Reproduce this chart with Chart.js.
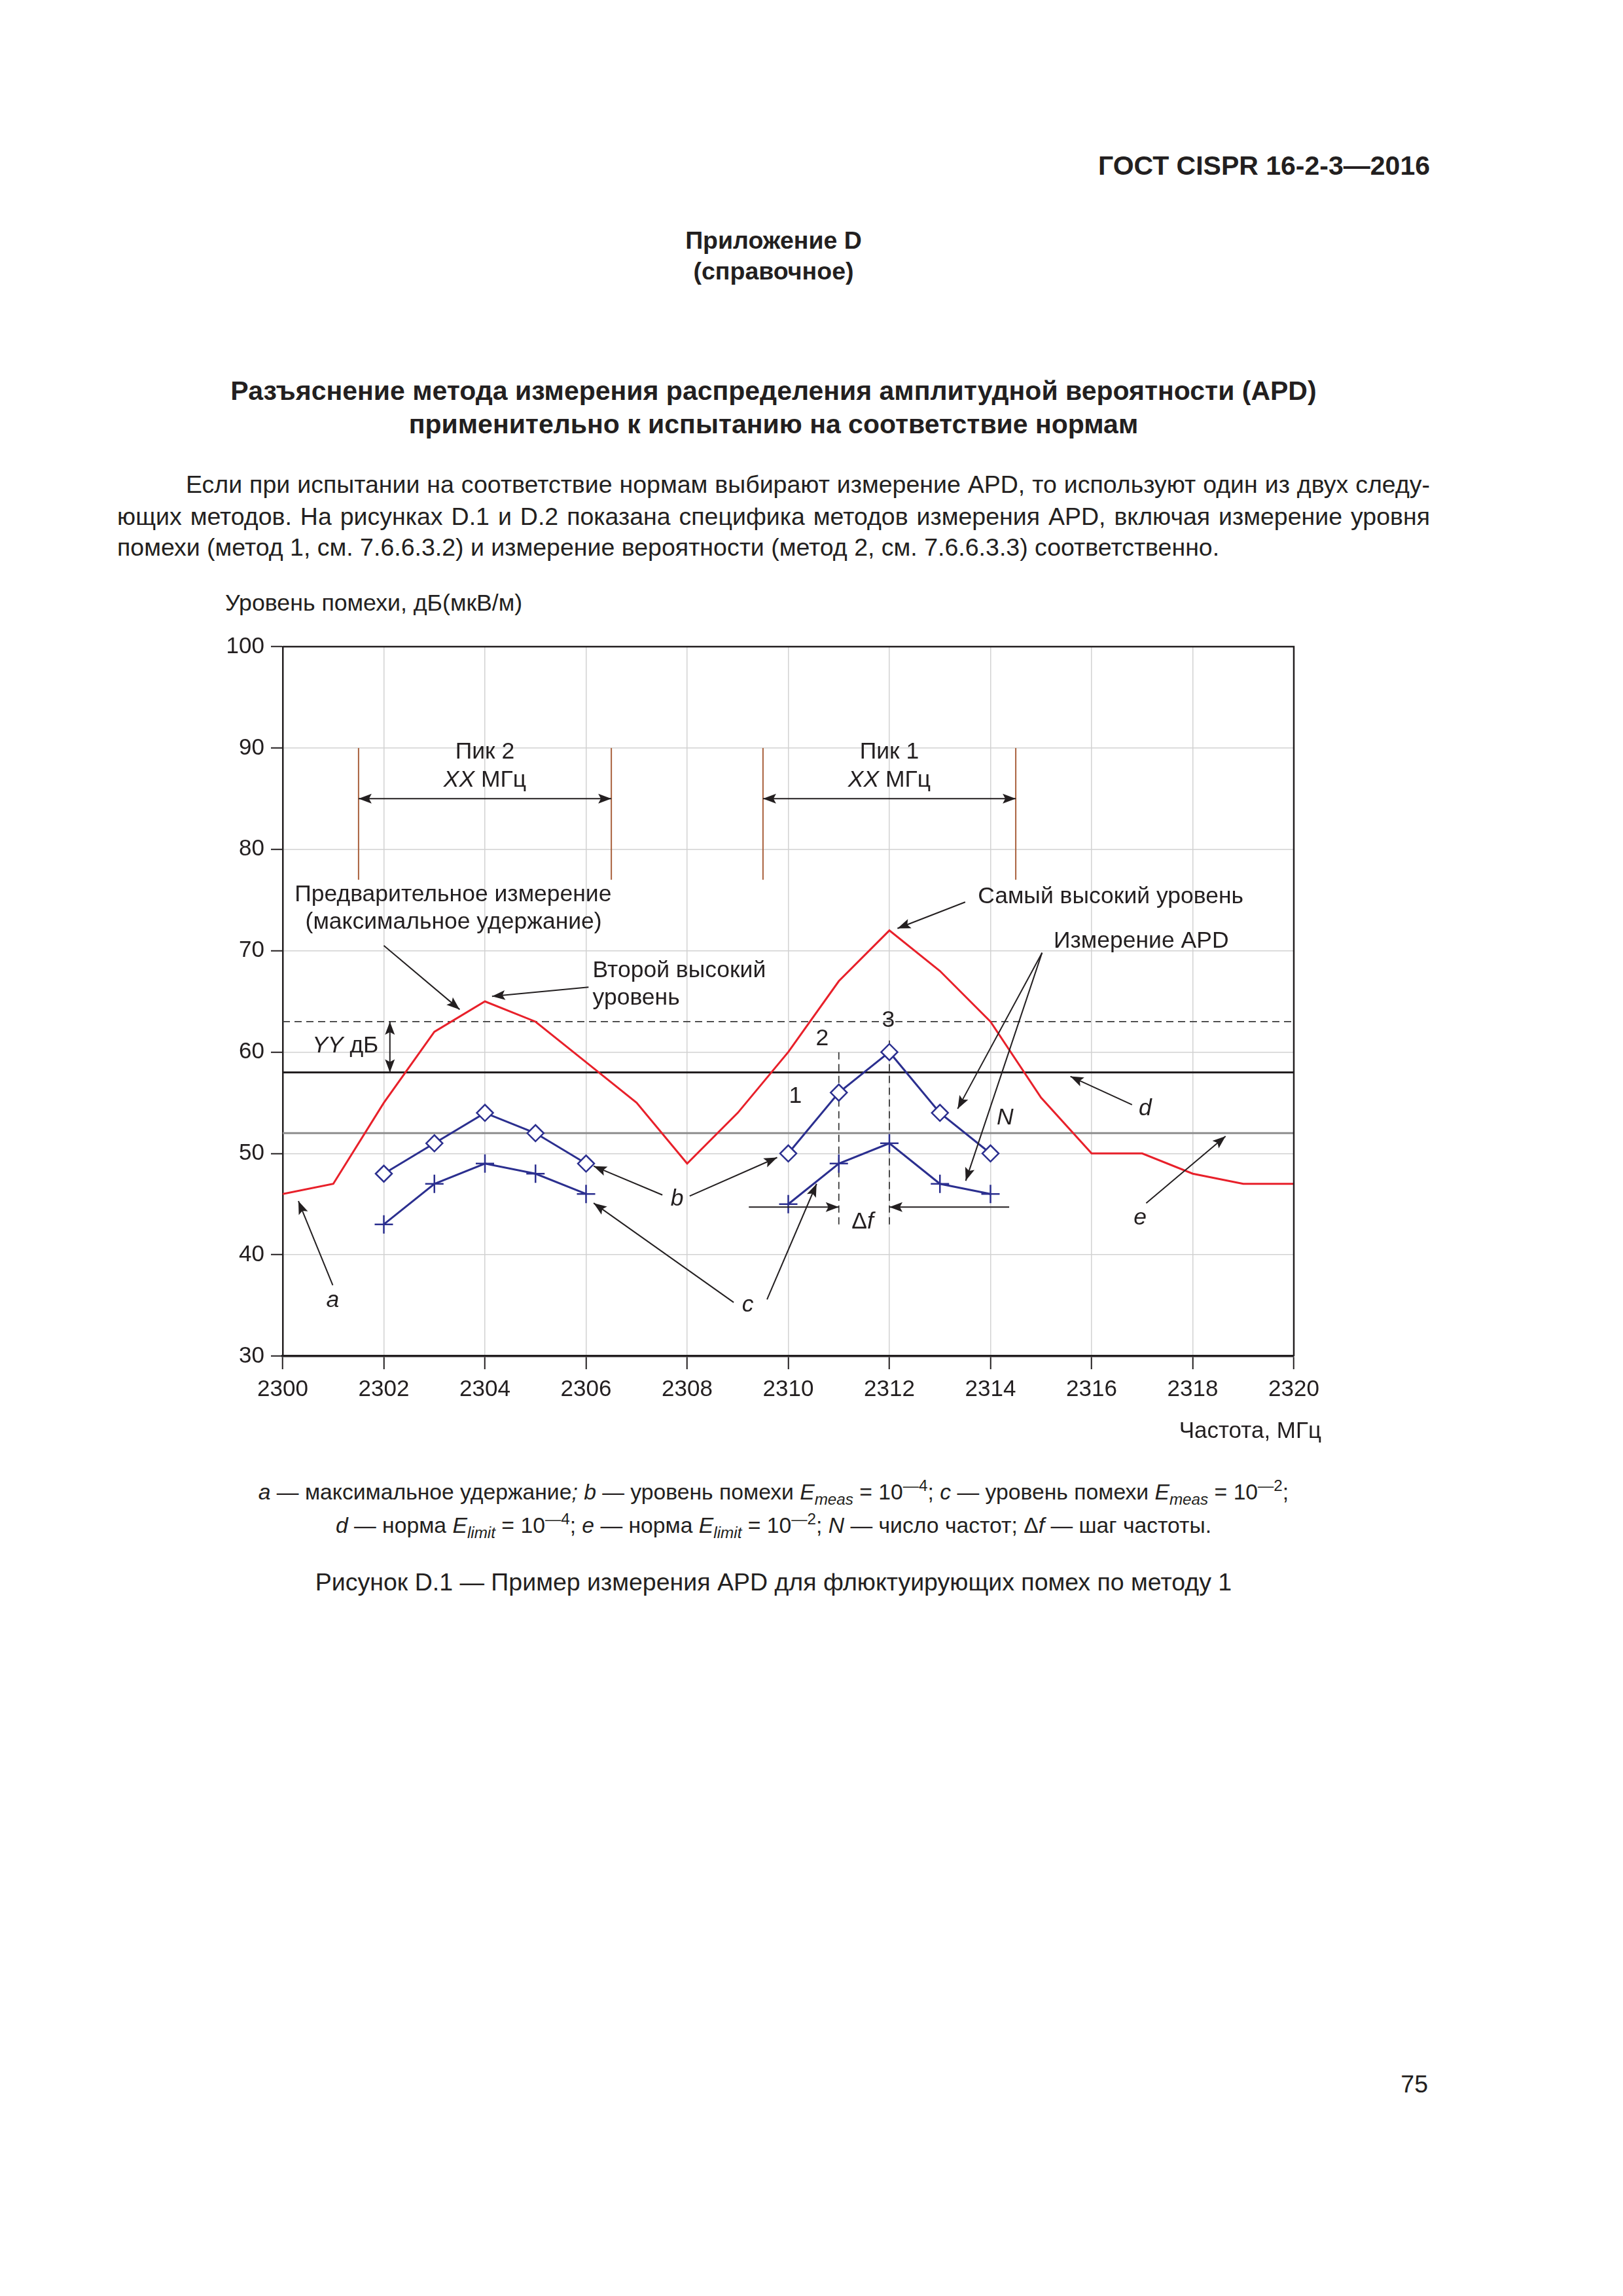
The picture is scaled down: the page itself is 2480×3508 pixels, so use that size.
<!DOCTYPE html>
<html lang="ru">
<head>
<meta charset="utf-8">
<title>Рисунок D.1 — Пример измерения APD</title>
<script src="https://cdn.jsdelivr.net/npm/chart.js@4.4.1/dist/chart.umd.min.js"></script>
<style>
  html, body { margin: 0; padding: 0; background: #fff; }
  body {
    width: 2480px; height: 3508px; position: relative; overflow: hidden;
    font-family: 'Liberation Sans', Arial, sans-serif; color: #231f20;
  }
  .t { position: absolute; white-space: nowrap; font-size: 37.5px; line-height: 40px; }
  .b { font-weight: bold; }
  .c { left: 179px; width: 2006px; text-align: center; }
  .j { left: 179px; width: 2006px; text-align: justify; text-align-last: justify; }
  sub, sup { font-size: 72%; line-height: 0; position: relative; vertical-align: baseline; }
  sub { top: 0.35em; }
  sup { top: -0.55em; }
  #chartBox { position: absolute; left: 250px; top: 940px; width: 1800px; height: 1250px; }
</style>
</head>
<body>

<div class="t b" style="right:295px; top:233px; font-size:41px;">ГОСТ CISPR 16-2-3—2016</div>

<div class="t b c" style="top:347px;">Приложение D</div>
<div class="t b c" style="top:394px;">(справочное)</div>

<div class="t b c" style="top:577px; font-size:41px;">Разъяснение метода измерения распределения амплитудной вероятности (APD)</div>
<div class="t b c" style="top:628px; font-size:41px;">применительно к испытанию на соответствие нормам</div>

<div class="t j" style="top:720px; left:284px; width:1901px;">Если при испытании на соответствие нормам выбирают измерение APD, то используют один из двух следу-</div>
<div class="t j" style="top:769px;">ющих методов. На рисунках D.1 и D.2 показана специфика методов измерения APD, включая измерение уровня</div>
<div class="t" style="top:816px; left:179px;">помехи (метод 1, см. 7.6.6.3.2) и измерение вероятности (метод 2, см. 7.6.6.3.3) соответственно.</div>

<div class="t" style="top:901px; left:344px; font-size:35.7px;">Уровень помехи, дБ(мкВ/м)</div>

<div id="chartBox"><canvas id="apdChart"></canvas></div>

<div class="t" style="top:2165px; right:461px; font-size:35px;">Частота, МГц</div>

<div class="t c" style="top:2259px; font-size:33.7px;"><i>a</i> — максимальное удержание<i>;</i> <i>b</i> — уровень помехи <i>E<sub>meas</sub></i> = 10<sup>—4</sup>; <i>c</i> — уровень помехи <i>E<sub>meas</sub></i> = 10<sup>—2</sup>;</div>
<div class="t c" style="top:2310px; font-size:33.7px;"><i>d</i> — норма <i>E<sub>limit</sub></i> = 10<sup>—4</sup>; <i>e</i> — норма <i>E<sub>limit</sub></i> = 10<sup>—2</sup>; <i>N</i> — число частот; Δ<i>f</i> — шаг частоты.</div>

<div class="t c" style="top:2397px;">Рисунок D.1 — Пример измерения APD для флюктуирующих помех по методу 1</div>

<div class="t" style="top:3164px; right:298px;">75</div>

<script>
// frequencies, MHz
const maxHoldFreq = [2300, 2301, 2302, 2303, 2304, 2305, 2306, 2307, 2308, 2309, 2310,
                     2311, 2312, 2313, 2314, 2315, 2316, 2317, 2318, 2319, 2320];
// a - max hold, dB(uV/m)
const maxHoldLevel = [46, 47, 55, 62, 65, 63, 59, 55, 49, 54, 60,
                      67, 72, 68, 63, 55.5, 50, 50, 48, 47, 47];

const apdFreq = [2302, 2303, 2304, 2305, 2306, 2307, 2308, 2309, 2310, 2311, 2312, 2313, 2314];
// b - level at E_meas = 1e-4, c - level at E_meas = 1e-2
const levelB = [48, 51, 54, 52, 49, null, null, null, 50, 56, 60, 54, 50];
const levelC = [43, 47, 49, 48, 46, null, null, null, 45, 49, 51, 47, 46];

const limitD = 58;        // d - limit E_limit = 1e-4
const limitE = 52;        // e - limit E_limit = 1e-2
const secondLevel = 63;   // dashed: second highest level
const spanFreq = [2300, 2320];

// frequency step markers (dashed verticals)
const stepFreq = [2311, 2312];
const stepTop = [60, 61.2];
const stepBottom = 43;

// peak windows (brown verticals)
const peakEdges = [2301.5, 2306.5, 2309.5, 2314.5];
const peakLineTop = 90;
const peakLineBottom = 77;

const xMin = 2300, xMax = 2320, xStep = 2;
const yMin = 30, yMax = 100, yStep = 10;

const RED = '#e8202a';
const NAVY = '#2b2f8f';
const BROWN = '#a8603c';
const INK = '#231f20';
const FONT = "'Liberation Sans', Arial, sans-serif";
const NOTE_SIZE = 35.5;

// text notes, placed in data coordinates
const notes = [
  { x: 2304, y: 89.6, align: 'center', runs: [['Пик 2']] },
  { x: 2304, y: 86.8, align: 'center', runs: [['XX', true], [' МГц']] },
  { x: 2312, y: 89.6, align: 'center', runs: [['Пик 1']] },
  { x: 2312, y: 86.8, align: 'center', runs: [['XX', true], [' МГц']] },
  { x: 2303.37, y: 75.5, align: 'center', runs: [['Предварительное измерение']] },
  { x: 2303.38, y: 72.8, align: 'center', runs: [['(максимальное удержание)']] },
  { x: 2306.13, y: 68.0, align: 'left', runs: [['Второй высокий']] },
  { x: 2306.13, y: 65.3, align: 'left', runs: [['уровень']] },
  { x: 2313.75, y: 75.3, align: 'left', runs: [['Самый высокий уровень']] },
  { x: 2315.25, y: 70.9, align: 'left', runs: [['Измерение APD']] },
  { x: 2310.14, y: 55.6, align: 'center', runs: [['1']] },
  { x: 2310.67, y: 61.3, align: 'center', runs: [['2']] },
  { x: 2311.98, y: 63.1, align: 'center', runs: [['3']] },
  { x: 2314.29, y: 53.5, align: 'center', runs: [['N', true]] },
  { x: 2301.24, y: 60.6, align: 'center', runs: [['YY', true], [' дБ']] },
  { x: 2311.47, y: 43.2, align: 'center', runs: [['Δ'], ['f', true]] },
  { x: 2300.99, y: 35.5, align: 'center', runs: [['a', true]] },
  { x: 2307.8, y: 45.5, align: 'center', runs: [['b', true]] },
  { x: 2309.2, y: 35.0, align: 'center', runs: [['c', true]] },
  { x: 2317.06, y: 54.4, align: 'center', runs: [['d', true]] },
  { x: 2316.96, y: 43.6, align: 'center', runs: [['e', true]] }
];

// leader arrows: [x1, y1, x2, y2, double-headed]
const pointers = [
  [2301.5, 85, 2306.5, 85, true],
  [2309.5, 85, 2314.5, 85, true],
  [2302.12, 58, 2302.12, 63, true],
  [2302.0, 70.5, 2303.5, 64.2],
  [2306.05, 66.4, 2304.14, 65.5],
  [2313.5, 74.8, 2312.16, 72.2],
  [2315.02, 69.8, 2313.35, 54.4],
  [2315.02, 69.8, 2313.51, 47.3],
  [2309.22, 44.7, 2311.0, 44.7],
  [2314.37, 44.7, 2312.0, 44.7],
  [2300.99, 37.0, 2300.31, 45.3],
  [2307.51, 45.9, 2306.15, 48.75],
  [2308.05, 45.8, 2309.78, 49.6],
  [2308.92, 35.3, 2306.15, 45.1],
  [2309.58, 35.6, 2310.56, 47.0],
  [2316.8, 54.8, 2315.58, 57.6],
  [2317.08, 45.1, 2318.65, 51.7]
];

function toXY(xs, ys) {
  return xs.map((x, i) => ({ x: x, y: ys[i] }));
}

function flat(y) {
  return spanFreq.map(x => ({ x: x, y: y }));
}

function head(ctx, x1, y1, x2, y2) {
  const a = Math.atan2(y2 - y1, x2 - x1);
  const len = 20, half = 7.5;
  ctx.beginPath();
  ctx.moveTo(x2, y2);
  ctx.lineTo(x2 - len * Math.cos(a) + half * Math.sin(a), y2 - len * Math.sin(a) - half * Math.cos(a));
  ctx.lineTo(x2 - len * Math.cos(a) * 0.8, y2 - len * Math.sin(a) * 0.8);
  ctx.lineTo(x2 - len * Math.cos(a) - half * Math.sin(a), y2 - len * Math.sin(a) + half * Math.cos(a));
  ctx.closePath();
  ctx.fill();
}

const overlay = {
  id: 'overlay',
  afterDatasetsDraw(chart) {
    const { ctx, chartArea, scales } = chart;
    const sx = scales.x, sy = scales.y;
    ctx.save();

    // top and right frame
    ctx.strokeStyle = INK;
    ctx.lineWidth = 2.5;
    ctx.beginPath();
    ctx.moveTo(chartArea.left, chartArea.top);
    ctx.lineTo(chartArea.right, chartArea.top);
    ctx.lineTo(chartArea.right, chartArea.bottom);
    ctx.stroke();

    ctx.strokeStyle = INK;
    ctx.fillStyle = INK;
    ctx.lineWidth = 2;
    pointers.forEach(p => {
      const x1 = sx.getPixelForValue(p[0]), y1 = sy.getPixelForValue(p[1]);
      const x2 = sx.getPixelForValue(p[2]), y2 = sy.getPixelForValue(p[3]);
      ctx.beginPath();
      ctx.moveTo(x1, y1);
      ctx.lineTo(x2, y2);
      ctx.stroke();
      head(ctx, x1, y1, x2, y2);
      if (p[4]) head(ctx, x2, y2, x1, y1);
    });

    ctx.textBaseline = 'middle';
    ctx.textAlign = 'left';
    notes.forEach(n => {
      const parts = n.runs.map(r => {
        ctx.font = (r[1] ? 'italic ' : '') + NOTE_SIZE + 'px ' + FONT;
        return { text: r[0], font: ctx.font, w: ctx.measureText(r[0]).width };
      });
      const total = parts.reduce((s, p) => s + p.w, 0);
      let x = sx.getPixelForValue(n.x);
      if (n.align === 'center') x -= total / 2;
      const y = sy.getPixelForValue(n.y);
      parts.forEach(p => {
        ctx.font = p.font;
        ctx.fillText(p.text, x, y);
        x += p.w;
      });
    });
    ctx.restore();
  }
};

const datasets = [
  {
    label: 'b',
    data: toXY(apdFreq, levelB),
    borderColor: NAVY, borderWidth: 3,
    pointStyle: 'rectRot', pointRadius: 12.5,
    pointBackgroundColor: '#fff', pointBorderColor: NAVY, pointBorderWidth: 2.5,
    order: 0
  },
  {
    label: 'c',
    data: toXY(apdFreq, levelC),
    borderColor: NAVY, borderWidth: 3,
    pointStyle: 'cross', pointRadius: 14,
    pointBorderColor: NAVY, pointBorderWidth: 2.5,
    order: 1
  },
  {
    label: 'a',
    data: toXY(maxHoldFreq, maxHoldLevel),
    borderColor: RED, borderWidth: 3, pointRadius: 0,
    order: 2
  },
  { label: 'd', data: flat(limitD), borderColor: INK, borderWidth: 3, pointRadius: 0, order: 3 },
  { label: 'e', data: flat(limitE), borderColor: '#8e8e8e', borderWidth: 3, pointRadius: 0, order: 4 },
  {
    label: 'second', data: flat(secondLevel), borderColor: '#3a3a3a', borderWidth: 1.8,
    borderDash: [11, 7], pointRadius: 0, order: 5
  }
];

stepFreq.forEach((f, i) => {
  datasets.push({
    label: 'step' + i,
    data: [{ x: f, y: stepBottom }, { x: f, y: stepTop[i] }],
    borderColor: '#3a3a3a', borderWidth: 1.8, borderDash: [11, 7], pointRadius: 0, order: 6
  });
});

peakEdges.forEach((f, i) => {
  datasets.push({
    label: 'peak' + i,
    data: [{ x: f, y: peakLineBottom }, { x: f, y: peakLineTop }],
    borderColor: BROWN, borderWidth: 2, pointRadius: 0, order: 7
  });
});

new Chart(document.getElementById('apdChart'), {
  type: 'line',
  data: { datasets: datasets },
  options: {
    responsive: true,
    maintainAspectRatio: false,
    devicePixelRatio: 1,
    animation: false,
    events: [],
    layout: { padding: { top: 48, right: 73, left: 0, bottom: 0 } },
    plugins: { legend: { display: false }, tooltip: { enabled: false } },
    scales: {
      x: {
        type: 'linear', min: xMin, max: xMax,
        afterFit: scale => { scale.height = 118; },
        ticks: {
          stepSize: xStep, color: INK, padding: 10,
          font: { family: FONT, size: 35 },
          callback: v => String(v)
        },
        grid: { color: '#d2d2d2', lineWidth: 1.5, tickColor: INK, tickLength: 20, tickWidth: 2 },
        border: { display: true, color: INK, width: 3.5 }
      },
      y: {
        type: 'linear', min: yMin, max: yMax,
        afterFit: scale => { scale.width = 182; },
        ticks: {
          stepSize: yStep, color: INK, padding: 10,
          font: { family: FONT, size: 35 },
          callback: v => String(v)
        },
        grid: { color: '#d2d2d2', lineWidth: 1.5, tickColor: INK, tickLength: 18, tickWidth: 2 },
        border: { display: true, color: INK, width: 2.5 }
      }
    }
  },
  plugins: [overlay]
});
</script>
</body>
</html>
